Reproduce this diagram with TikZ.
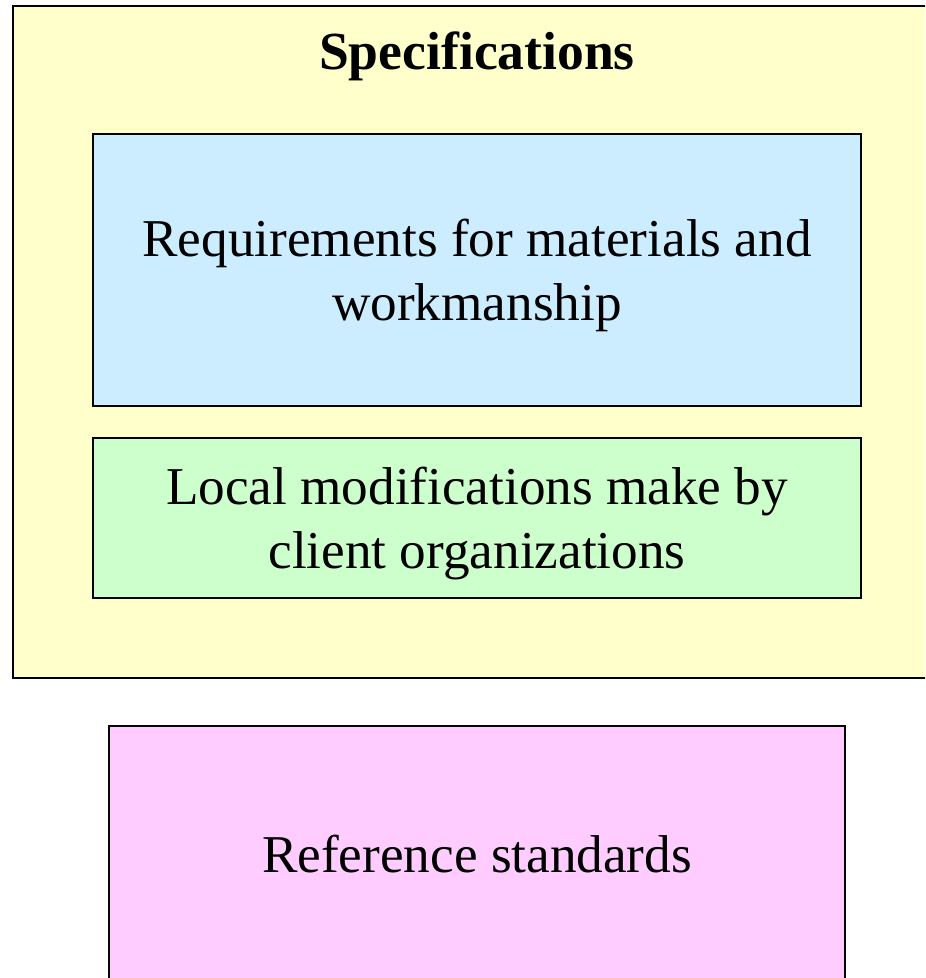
\documentclass[tikz,border=0pt]{standalone}
\usepackage{fontspec}
\setmainfont{Liberation Serif}
\usetikzlibrary{positioning}

\definecolor{specyellow}{HTML}{FFFFCC}
\definecolor{reqblue}{HTML}{CCECFF}
\definecolor{modgreen}{HTML}{CCFFCC}
\definecolor{refpink}{HTML}{FFCCFF}

\begin{document}
\begin{tikzpicture}[
        x=0.5pt, y=-0.5pt,
        every node/.style={rectangle, inner sep=0pt, align=center,
            font=\fontsize{26.6}{32}\selectfont},
        box/.style={draw=black, line width=1pt}
    ]
        \useasboundingbox (0,0) rectangle (925,978);
        \clip (0,0) rectangle (925,978);

        % outer frame
        \node [box, fill=specyellow, minimum width=463.5pt, minimum height=336pt] (spec) at (476.5,342) {};
        \node [font=\fontsize{26.8}{32}\selectfont\bfseries, anchor=base] (spectitle) at (477,70) {Specifications};

        % inner boxes
        \node [box, fill=reqblue, minimum width=384pt, minimum height=136pt, text depth=0pt] (req) at (477,270)
            {Requirements for materials and\\workmanship};
        \node [box, fill=modgreen, minimum width=384pt, minimum height=80pt, text depth=0pt] (mods) at (477,518)
            {Local modifications make by\\client organizations};

        % standards
        \node [box, fill=refpink, minimum width=368pt, minimum height=128pt] (refstd) at (477,854)
            {Reference standards};
    \end{tikzpicture}
\end{document}
